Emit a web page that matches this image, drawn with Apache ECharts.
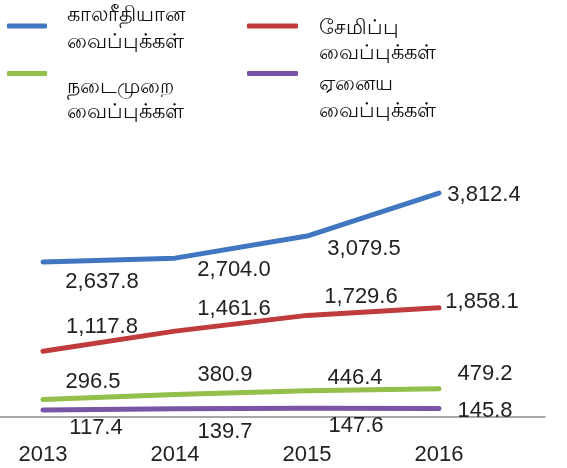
<!DOCTYPE html>
<html>
<head>
<meta charset="utf-8">
<script src="https://cdn.jsdelivr.net/npm/echarts@6/dist/echarts.min.js"></script>
<style>
  html, body { margin: 0; padding: 0; background: #fff; }
  #chart { width: 567px; height: 468px; }
</style>
</head>
<body>
<div id="chart"></div>
<script>
// data
const years = ['2013', '2014', '2015', '2016'];
const seriesNames = [
  'காலரீதியான வைப்புக்கள்',
  'சேமிப்பு வைப்புக்கள்',
  'நடைமுறை வைப்புக்கள்',
  'ஏனைய வைப்புக்கள்'
];
const timeDeposits = [2637.8, 2704.0, 3079.5, 3812.4];
const savingsDeposits = [1117.8, 1461.6, 1729.6, 1858.1];
const currentDeposits = [296.5, 380.9, 446.4, 479.2];
const otherDeposits = [117.4, 139.7, 147.6, 145.8];

const colors = ['#4177c1', '#c03b3c', '#93bf4b', '#7a55a6'];

// where each value label sits relative to its point (px)
const labelOffsets = [
  [[59, 20], [59, 12], [57, 13], [45, 2]],
  [[59, -24], [59, -22], [54, -18], [43, -6]],
  [[50, -18], [50, -20], [48, -13], [46, -15]],
  [[53, 18], [50, 23], [49, 18], [46, 3]]
];

const fmt = v => v.toLocaleString('en-US', { minimumFractionDigits: 1, maximumFractionDigits: 1 });

const chart = echarts.init(document.getElementById('chart'));

const labelFont = {
  fontFamily: 'Liberation Sans',
  fontSize: 22,
  color: '#222'
};

function makeSeries(i, values) {
  return {
    name: seriesNames[i],
    type: 'line',
    xAxisIndex: 0,
    yAxisIndex: 0,
    symbol: 'circle',
    symbolSize: 1,
    showSymbol: true,
    color: colors[i],
    lineStyle: { width: 5, cap: 'round', join: 'round', color: colors[i] },
    emphasis: { disabled: true },
    data: values.map((v, j) => ({
      value: v,
      label: { offset: labelOffsets[i][j] }
    })),
    label: Object.assign({
      show: true,
      position: 'inside',
      formatter: p => fmt(p.value)
    }, labelFont)
  };
}

// one legend per entry, text pushed down below the icon by an empty spacer line
function legendBox(i, left, top, width, lh, spacer, padLeft) {
  return {
    data: [seriesNames[i]],
    left: left,
    top: top,
    padding: 0,
    icon: 'roundRect',
    itemWidth: width,
    itemHeight: 5,
    selectedMode: false,
    formatter: name => {
      const parts = name.split(' ');
      return '{s| }\n{t|' + parts[0] + '}\n{t|' + parts[1] + '}';
    },
    textStyle: {
      color: '#111',
      padding: [0, 0, 0, padLeft],
      rich: {
        s: { height: spacer, lineHeight: spacer, fontSize: 1 },
        t: { fontFamily: 'Noto Sans, sans-serif', fontSize: 20.5, lineHeight: lh, color: '#111' }
      }
    }
  };
}

let option = {
  animation: false,
  backgroundColor: '#fff',
  legend: [
    legendBox(0, 7, -4, 40, 27, 6, 15),
    legendBox(1, 247, -14, 51, 25, 30, 16),
    legendBox(2, 7, 22, 40, 25, 53, 15),
    legendBox(3, 247, 22, 51, 27, 49, 16)
  ],
  grid: [
    { left: 43, right: 128, top: 182, bottom: 51 },
    // wider grid only used for the baseline that runs across the picture
    { left: 0, right: 22, top: 182, bottom: 51 }
  ],
  xAxis: [
    {
      type: 'category',
      gridIndex: 0,
      data: years,
      boundaryGap: false,
      axisLine: { show: false },
      axisTick: { show: false },
      axisLabel: Object.assign({ margin: 27 }, labelFont)
    },
    {
      type: 'value',
      gridIndex: 1,
      min: 0,
      max: 1,
      axisLine: { show: true, lineStyle: { color: '#8a8a8a', width: 1.5 } },
      axisTick: { show: false },
      axisLabel: { show: false },
      splitLine: { show: false }
    }
  ],
  yAxis: [
    { type: 'value', gridIndex: 0, min: 0, max: 4000, show: false },
    { type: 'value', gridIndex: 1, min: 0, max: 1, show: false }
  ],
  series: [
    makeSeries(0, timeDeposits),
    makeSeries(1, savingsDeposits),
    makeSeries(2, currentDeposits),
    makeSeries(3, otherDeposits)
  ]
};

chart.setOption(option);
</script>
</body>
</html>
